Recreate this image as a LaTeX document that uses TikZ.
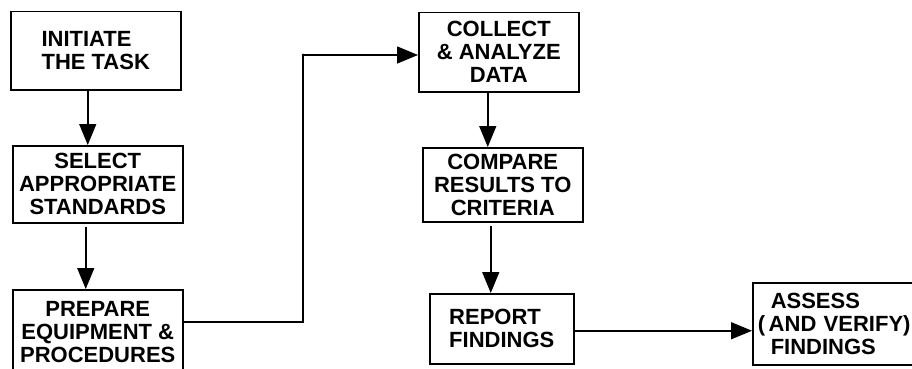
\documentclass[tikz,border=0pt]{standalone}
\usepackage{fontspec}
\setmainfont{Liberation Sans}
\usetikzlibrary{arrows.meta}
\tikzset{
  box/.style={draw, line width=1.5pt, inner sep=0pt, align=center, anchor=north west,
    font=\bfseries\fontsize{22}{23}\selectfont},
  arr/.style={line width=1.5pt, -{Triangle[length=21pt,width=17pt]}},
  ln/.style={line width=1.5pt}
}
\begin{document}
\begin{tikzpicture}[x=1pt,y=-1pt]
\useasboundingbox (0,0) rectangle (912,369);
\clip (0,0) rectangle (912,369);
\fill[white] (0,0) rectangle (912,369);
\node[box, minimum width=170pt, minimum height=78pt, align=left] (a1) at (10,11) {INITIATE\\THE TASK};
\node[box, minimum width=170pt, minimum height=77pt] (a2) at (12,145) {SELECT\\APPROPRIATE\\STANDARDS};
\node[box, minimum width=170pt, minimum height=84pt] (a3) at (12,289) {PREPARE\\EQUIPMENT \&\\PROCEDURES};
\node[box, minimum width=160pt, minimum height=79pt] (b1) at (418,12) {COLLECT\\\& ANALYZE\\DATA};
\node[box, minimum width=160pt, minimum height=74pt] (b2) at (422,147) {COMPARE\\RESULTS TO\\CRITERIA};
\node[box, minimum width=144pt, minimum height=70pt, align=left] (b3) at (429,293) {REPORT\\FINDINGS};
\node[box, minimum height=82pt, inner xsep=5pt, text width=170pt, align=left] (c) at (752,282)
  {\hspace*{13pt}ASSESS\\(\,AND VERIFY)\\\hspace*{13pt}FINDINGS};
\coordinate (k) at (303,55);
\draw[arr] ([xshift=-8pt]a1.south) -- ([xshift=-8pt]a1.south |- a2.north);
\draw[arr, shorten <=3pt] ([xshift=-12pt]a2.south) -- ([xshift=-12pt]a2.south |- a3.north);
\draw[ln] ([yshift=10pt]a3.east) -| (k);
\draw[arr] (k) -- (k -| b1.west);
\fill (k) circle (1.5pt);
\draw[arr] ([xshift=-11pt]b1.south) -- ([xshift=-11pt]b1.south |- b2.north);
\draw[arr, shorten <=3pt] ([xshift=-12pt]b2.south) -- ([xshift=-12pt]b2.south |- b3.north);
\draw[arr] ([yshift=-2pt]b3.east) -- ([yshift=-2pt]b3.east -| c.west);
\end{tikzpicture}
\end{document}
